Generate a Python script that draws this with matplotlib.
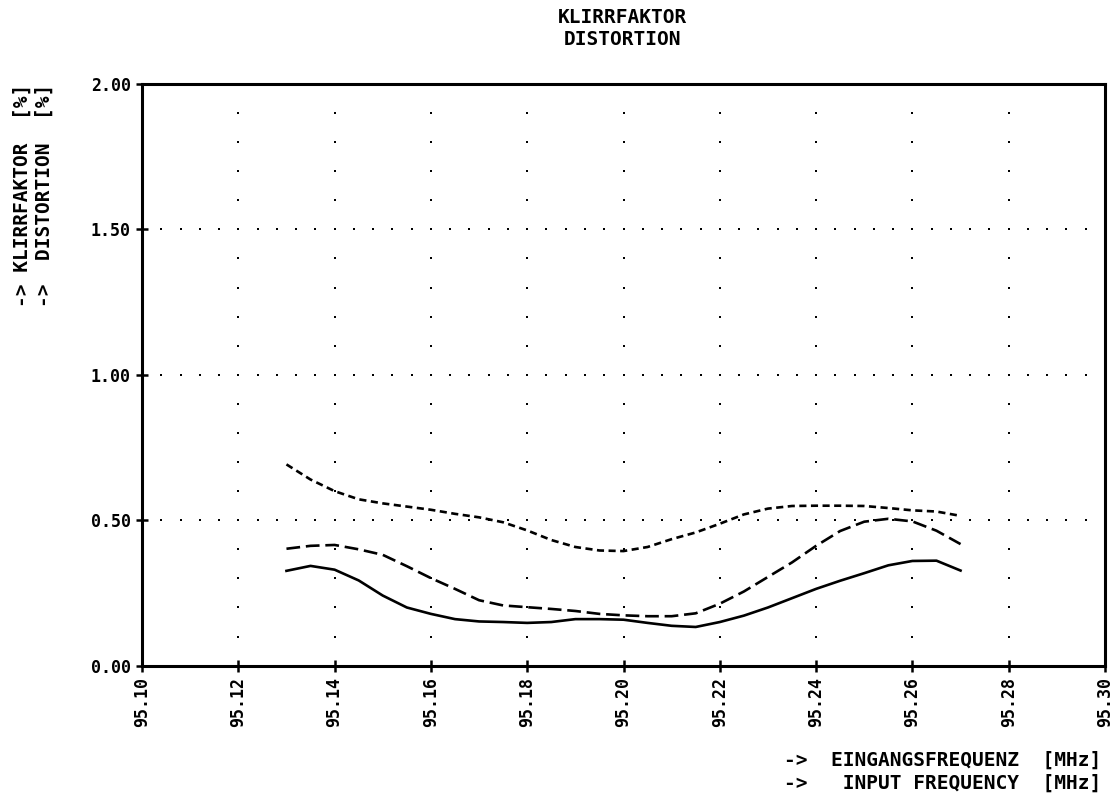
#!/usr/bin/env python3
"""Klirrfaktor / distortion vs. input frequency, three measurement curves."""
import numpy as np
import matplotlib
matplotlib.use("Agg")
import matplotlib.pyplot as plt

# frequency axis [MHz]
freq = [95.130, 95.135, 95.140, 95.145, 95.150, 95.155, 95.160, 95.165, 95.170, 95.175,
        95.180, 95.185, 95.190, 95.195, 95.200, 95.205, 95.210, 95.215, 95.220, 95.225,
        95.230, 95.235, 95.240, 95.245, 95.250, 95.255, 95.260, 95.265, 95.270]

# distortion [%]
solid = [0.326, 0.343, 0.330, 0.293, 0.241, 0.200, 0.178, 0.160, 0.152, 0.150,
         0.147, 0.150, 0.160, 0.160, 0.158, 0.147, 0.137, 0.133, 0.150, 0.172,
         0.200, 0.232, 0.264, 0.292, 0.318, 0.345, 0.360, 0.361, 0.327]
long_dash = [0.402, 0.412, 0.415, 0.400, 0.381, 0.342, 0.301, 0.264, 0.225, 0.207,
             0.201, 0.195, 0.188, 0.178, 0.173, 0.170, 0.170, 0.180, 0.213, 0.255,
             0.305, 0.355, 0.412, 0.463, 0.495, 0.505, 0.496, 0.464, 0.418]
short_dash = [0.692, 0.640, 0.600, 0.572, 0.558, 0.547, 0.536, 0.522, 0.510, 0.493,
              0.465, 0.432, 0.408, 0.396, 0.394, 0.408, 0.435, 0.458, 0.488, 0.520,
              0.540, 0.549, 0.550, 0.550, 0.549, 0.542, 0.534, 0.530, 0.515]

xticks = [95.10, 95.12, 95.14, 95.16, 95.18, 95.20, 95.22, 95.24, 95.26, 95.28, 95.30]
yticks = [0.00, 0.50, 1.00, 1.50, 2.00]

MONO = "DejaVu Sans Mono"
plt.rcParams["font.family"] = MONO
plt.rcParams["font.weight"] = "bold"

fig = plt.figure(figsize=(11.2, 7.97), dpi=100)
ax = fig.add_axes([0.1268, 0.1648, 0.8598, 0.7298])

# dotted grid: dense dots along the horizontal lines, sparse on the vertical ones
gx = np.arange(xticks[0], xticks[-1] + 1e-9, 0.004)
for y in yticks[1:-1]:
    ax.scatter(gx, np.full_like(gx, y), s=4.5, marker="s", color="black", lw=0, zorder=1)
gy = np.arange(0.1, yticks[-1] + 1e-9, 0.1)
for x in xticks[1:-1]:
    ax.scatter(np.full_like(gy, x), gy, s=4.5, marker="s", color="black", lw=0, zorder=1)

ax.plot(freq, solid, color="black", lw=1.9, zorder=3)
ax.plot(freq, long_dash, color="black", lw=1.9, ls=(0, (5.2, 2.2)), zorder=3)
ax.plot(freq, short_dash, color="black", lw=1.9, ls=(0, (2.7, 1.7)), zorder=3)

ax.set_xlim(xticks[0], xticks[-1])
ax.set_ylim(yticks[0], yticks[-1])
ax.set_xticks(xticks)
ax.set_xticklabels([f"{v:.2f}" for v in xticks], rotation=90, fontsize=12, weight="bold")
ax.set_yticks(yticks)
ax.set_yticklabels([f"{v:.2f}" for v in yticks], fontsize=12, weight="bold")
ax.tick_params(direction="inout", length=8, width=1.8, pad=4)
for sp in ax.spines.values():
    sp.set_linewidth(2.2)

fig.text(0.556, 0.990, "KLIRRFAKTOR\nDISTORTION", ha="center", va="top",
         fontsize=14, weight="bold", linespacing=1.2)
fig.text(0.011, 0.895, "-> KLIRRFAKTOR  [%]\n->  DISTORTION  [%]", rotation=90,
         ha="left", va="top", fontsize=14, weight="bold", linespacing=1.2,
         multialignment="left")
fig.text(0.983, 0.032, "->  EINGANGSFREQUENZ  [MHz]\n->   INPUT FREQUENCY  [MHz]",
         ha="right", va="center", fontsize=14, weight="bold", linespacing=1.25,
         multialignment="left")

fig.savefig("out.png", dpi=100)
